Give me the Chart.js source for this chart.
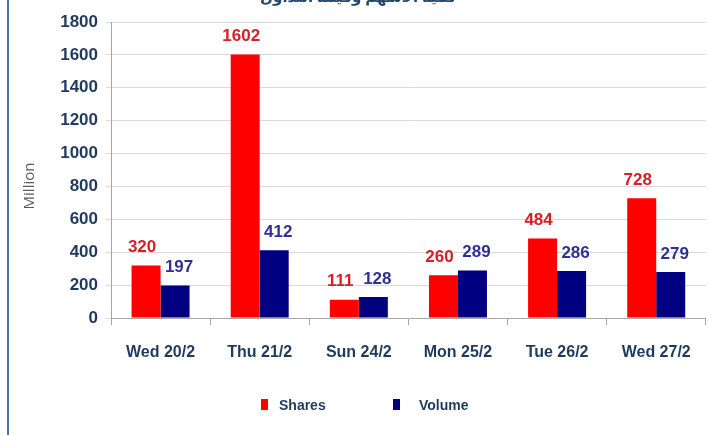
<!DOCTYPE html>
<html>
<head>
<meta charset="utf-8">
<script src="https://cdn.jsdelivr.net/npm/chart.js@4.4.1/dist/chart.umd.min.js"></script>
<style>
  html, body { margin:0; padding:0; background:#fff; }
  #wrap { position:relative; width:709px; height:435px; overflow:hidden; background:#fff; }
  #c { position:absolute; left:0; top:0; }
  #border { position:absolute; left:7px; top:0; width:2px; height:435px; background:#4f6fa8; }
  #title { position:absolute; left:0; width:716px; top:-13px; text-align:center; font-family:"Noto Sans", "DejaVu Sans", sans-serif; font-weight:bold; font-size:15px; line-height:18px; color:#24466b; direction:rtl; }
  .leg { position:absolute; font-family:"Liberation Sans", sans-serif; font-weight:bold; font-size:14px; color:#1f3a5f; line-height:16px; }
  .sw { position:absolute; width:7px; height:11px; }
</style>
</head>
<body>
<div id="wrap">
  <canvas id="c" width="709" height="435"></canvas>
  <div id="border"></div>
  <div id="title">كمية الأسهم وقيمة التداول</div>
  <div class="sw" style="left:261px;top:399px;background:#ff0000"></div>
  <div class="leg" style="left:279px;top:397px">Shares</div>
  <div class="sw" style="left:393px;top:399px;background:#000080"></div>
  <div class="leg" style="left:419px;top:397px">Volume</div>
</div>
<script>
const categories = ["Wed 20/2", "Thu 21/2", "Sun 24/2", "Mon 25/2", "Tue 26/2", "Wed 27/2"];
const shares = [320, 1602, 111, 260, 484, 728];
const volume = [197, 412, 128, 289, 286, 279];
const yTicks = [0, 200, 400, 600, 800, 1000, 1200, 1400, 1600, 1800];
const yAxisTitle = "Million";

const FONT = '"Liberation Sans", "Arial", sans-serif';

const labelPlugin = {
  id: 'barLabels',
  afterDatasetsDraw(chart) {
    const ctx = chart.ctx;
    ctx.save();
    ctx.font = 'bold 17px ' + FONT;
    ctx.textAlign = 'center';
    ctx.textBaseline = 'middle';
    chart.data.datasets.forEach((ds, di) => {
      const meta = chart.getDatasetMeta(di);
      meta.data.forEach((bar, i) => {
        ctx.fillStyle = ds.labelColor;
        const dx = di === 0 ? -4 : 4;
        ctx.fillText(String(ds.data[i]), bar.x + dx, bar.y - 18);
      });
    });
    ctx.restore();
  },
  afterDraw(chart) {
    const ctx = chart.ctx;
    const ca = chart.chartArea;
    ctx.save();
    ctx.translate(30, (ca.top + ca.bottom) / 2 + 16);
    ctx.rotate(-Math.PI / 2);
    ctx.font = '15px "Open Sans", sans-serif';
    ctx.fillStyle = '#595959';
    ctx.textAlign = 'center';
    ctx.textBaseline = 'middle';
    ctx.fillText(yAxisTitle, 0, 0);
    ctx.restore();
  }
};

new Chart(document.getElementById('c'), {
  type: 'bar',
  data: {
    labels: categories,
    datasets: [
      { label: 'Shares', data: shares, backgroundColor: '#ff0000', labelColor: '#d42027',
        categoryPercentage: 0.585, barPercentage: 1.0 },
      { label: 'Volume', data: volume, backgroundColor: '#000080', labelColor: '#2e3192',
        categoryPercentage: 0.585, barPercentage: 1.0 }
    ]
  },
  options: {
    responsive: false,
    animation: false,
    layout: { padding: { left: 0, right: 3, top: 22, bottom: 0 } },
    plugins: { legend: { display: false }, tooltip: { enabled: false } },
    scales: {
      x: {
        grid: { display: true, drawOnChartArea: false, drawTicks: true, tickLength: 7, color: '#a6a6a6', offset: true },
        border: { color: '#a6a6a6' },
        ticks: { font: { family: FONT, weight: 'bold', size: 16 }, color: '#1f3a5f', padding: 18 },
        afterFit(s) { s.height = 117; }
      },
      y: {
        min: 0, max: 1800,
        afterBuildTicks(s) { s.ticks = yTicks.map(v => ({ value: v })); },
        grid: { color: '#d9d9d9', tickLength: 5, drawTicks: true },
        border: { color: '#a6a6a6' },
        ticks: { font: { family: FONT, weight: 'bold', size: 17 }, color: '#1f3a5f', padding: 8,
          callback: v => String(v) },
        afterFit(s) { s.width = 111; }
      }
    }
  },
  plugins: [labelPlugin]
});
</script>
</body>
</html>
